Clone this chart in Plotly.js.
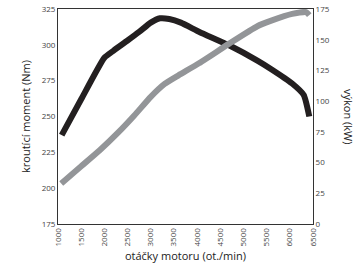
<!DOCTYPE html>
<html><head><meta charset="utf-8">
<script src="https://cdn.plot.ly/plotly-3.0.1.min.js"></script>
<style>html,body{margin:0;padding:0;background:#fff}#c{width:361px;height:278px}</style>
</head><body><div id="c"></div>
<script>
const torqueRpm = [1080, 1500, 2000, 2200, 2500, 2750, 3000, 3200, 3400, 3650, 4050, 4700, 5300, 5600, 6050, 6300, 6420];
const torqueNm  = [237, 262, 291, 296, 303, 309, 315.5, 318.5, 318, 315.5, 309, 299.5, 289, 283, 273, 265, 250];
const powerRpm  = [1070, 1500, 1900, 2300, 2650, 3000, 3300, 3600, 4050, 4700, 5300, 5600, 6050, 6350, 6420];
const powerKw   = [33, 47, 60, 74.5, 88.5, 103.5, 114, 121, 131, 147, 161, 165.5, 171, 172.5, 170];
const xTicks = [1000,1500,2000,2500,3000,3500,4000,4500,5000,5500,6000,6500];
const font = "'Open Sans', sans-serif";
Plotly.newPlot('c', [
  {x: torqueRpm, y: torqueNm, mode: 'lines', line: {color: '#231f20', width: 6, shape: 'spline', smoothing: 0.5}, yaxis: 'y', hoverinfo: 'skip'},
  {x: powerRpm, y: powerKw, mode: 'lines', line: {color: '#939598', width: 6, shape: 'spline', smoothing: 0.5}, yaxis: 'y2', hoverinfo: 'skip'}
], {
  width: 361, height: 278,
  margin: {l: 58, r: 48, t: 9, b: 54},
  showlegend: false,
  paper_bgcolor: '#fff', plot_bgcolor: '#fff',
  font: {family: font, color: '#333'},
  xaxis: {range: [1000, 6500], tickvals: xTicks, ticktext: xTicks.map(String), tickangle: -90,
    tickfont: {size: 8, color: '#444'}, showgrid: false, zeroline: false, showline: true, mirror: true,
    linecolor: '#333', linewidth: 1, ticks: '', ticklen: 0,
    title: {text: 'otáčky motoru (ot./min)', font: {size: 11, color: '#222'}, standoff: 6}},
  yaxis: {range: [175, 325], dtick: 25, tickfont: {size: 8, color: '#444'}, showgrid: false, zeroline: false,
    showline: true, linecolor: '#333', linewidth: 1, ticks: '',
    title: {text: 'kroutící moment (Nm)', font: {size: 11, color: '#222'}, standoff: 8}},
  yaxis2: {range: [0, 175], dtick: 25, overlaying: 'y', side: 'right', tickfont: {size: 8, color: '#444'},
    showgrid: false, zeroline: false, showline: true, linecolor: '#333', linewidth: 1, ticks: ''},
  annotations: [{text: 'výkon (kW)', textangle: 90, xref: 'paper', yref: 'paper', x: 1, y: 0.5,
    xanchor: 'left', yanchor: 'middle', xshift: 26, showarrow: false, font: {size: 11, color: '#222', family: font}}]
}, {displayModeBar: false, staticPlot: true});
</script></body></html>
